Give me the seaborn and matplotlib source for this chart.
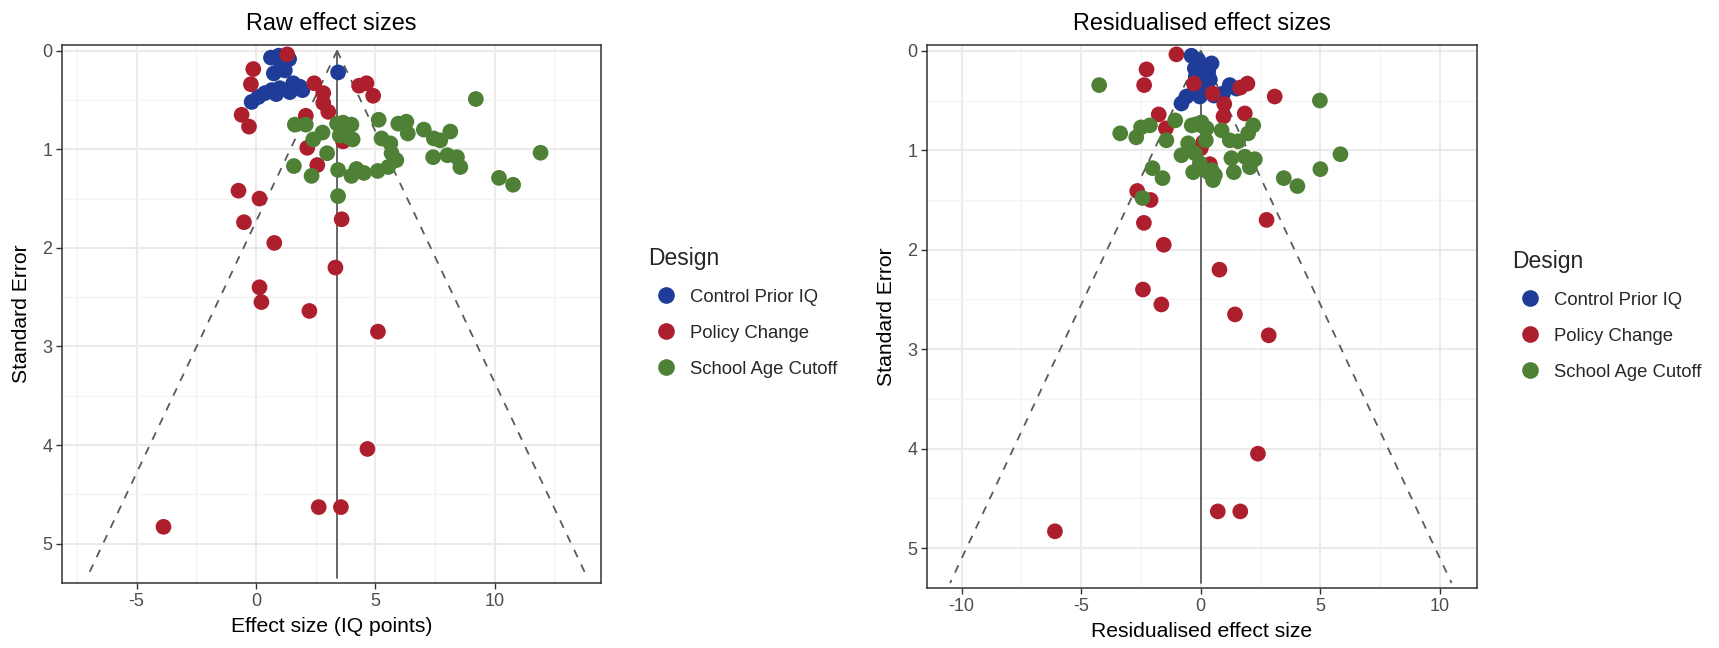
import matplotlib
matplotlib.use("Agg")
import numpy as np
import pandas as pd
import matplotlib.pyplot as plt
import seaborn as sns
from matplotlib.lines import Line2D
from matplotlib.ticker import MultipleLocator

# ---------------- data ----------------
designs = ["Control Prior IQ", "Policy Change", "School Age Cutoff"]
design_colors = ["#1E3C98", "#AE1F2E", "#4E8036"]

# Raw effect sizes panel
raw_ctrl_x = [0.63, 0.96, 1.39, 1.07, 0.75, 1.21, 3.44, 1.56, 1.84, 1.00, 0.66, 0.38, 0.10, -0.18, 1.42, 1.95, 0.85]
raw_ctrl_se = [0.07, 0.05, 0.085, 0.145, 0.23, 0.20, 0.22, 0.33, 0.365, 0.38, 0.40, 0.43, 0.47, 0.52, 0.42, 0.40, 0.44]

raw_pol_x = [1.31, -0.11, -0.21, 2.44, 2.82, 2.82, 3.03, 4.32, 4.63, 4.91, -0.60, -0.29, 2.09, 3.65, 2.15,
             2.57, -0.73, 0.15, -0.50, 0.77, 3.59, 3.33, 0.15, 0.23, 2.24, 5.11, 4.67, 2.63, 3.56, -3.87]
raw_pol_se = [0.037, 0.186, 0.34, 0.33, 0.43, 0.53, 0.62, 0.355, 0.33, 0.457, 0.65, 0.77, 0.66, 0.92, 0.985,
              1.16, 1.42, 1.50, 1.74, 1.95, 1.71, 2.20, 2.40, 2.55, 2.64, 2.85, 4.04, 4.63, 4.63, 4.83]

raw_age_x = [1.63, 2.09, 2.40, 2.79, 2.98, 1.59, 2.33, 3.40, 3.65, 4.00, 3.51, 3.86, 4.05, 3.44, 3.44, 4.00,
             4.21, 4.52, 5.10, 5.14, 5.26, 5.63, 5.68, 5.88, 5.54, 5.96, 6.30, 6.36, 7.03, 7.45, 7.72, 8.14,
             7.42, 8.02, 8.42, 8.56, 9.21, 11.92, 10.18, 10.77]
raw_age_se = [0.75, 0.75, 0.90, 0.83, 1.04, 1.17, 1.27, 0.74, 0.73, 0.75, 0.86, 0.87, 0.90, 1.21, 1.475, 1.27,
              1.20, 1.24, 1.22, 0.70, 0.89, 0.94, 1.04, 1.11, 1.18, 0.74, 0.72, 0.84, 0.80, 0.89, 0.91, 0.82,
              1.08, 1.06, 1.08, 1.18, 0.49, 1.035, 1.29, 1.36]

# Residualised effect sizes panel
res_ctrl_x = [-0.39, -0.11, 0.45, -0.25, -0.21, 0.31, 0.38, 0.24, -0.04, -0.60, -0.81, 1.21, 1.49, 0.93, -0.25, 0.55, 0.10]
res_ctrl_se = [0.05, 0.093, 0.127, 0.177, 0.26, 0.21, 0.29, 0.395, 0.46, 0.46, 0.53, 0.345, 0.38, 0.43, 0.40, 0.45, 0.33]

res_pol_x = [-1.02, -2.27, -2.37, -0.29, 0.49, 0.98, 0.95, 1.84, 1.65, 1.95, 3.09, -1.76, -1.46, 0.00, 0.38,
             -2.66, -2.10, -2.38, -1.55, 2.75, 0.78, -2.42, -1.65, 1.43, 2.84, 2.39, 0.71, 1.65, -6.10, 0.10]
res_pol_se = [0.036, 0.187, 0.345, 0.33, 0.43, 0.535, 0.66, 0.63, 0.37, 0.33, 0.46, 0.64, 0.78, 0.98, 1.14,
              1.41, 1.50, 1.73, 1.95, 1.70, 2.20, 2.40, 2.55, 2.65, 2.86, 4.05, 4.63, 4.63, 4.83, 0.92]

res_age_x = [-4.25, -3.37, -2.70, -2.50, -2.13, -1.44, -1.07, -0.38, 0.03, 0.24, 0.21, -0.53, -0.81, -0.25,
             -0.04, -0.32, 0.31, 0.59, 0.51, 0.87, 1.21, 1.56, 1.98, 2.19, 1.28, 1.84, 2.26, 2.05, 1.38, -2.02,
             -1.60, -2.44, 3.47, 4.04, 4.98, 5.84, 5.00, 0.10, -0.20, 0.45]
res_age_se = [0.345, 0.83, 0.87, 0.77, 0.75, 0.90, 0.70, 0.75, 0.72, 0.78, 0.90, 0.93, 1.05, 1.03,
              1.13, 1.22, 1.22, 1.25, 1.30, 0.80, 0.90, 0.91, 0.83, 0.75, 1.08, 1.065, 1.09, 1.17, 1.22, 1.18,
              1.28, 1.48, 1.28, 1.36, 0.50, 1.04, 1.19, 0.76, 0.74, 1.20]

# funnel reference
raw_center = 3.4
res_center = 0.0
funnel_se_max = 5.35
z_crit = 1.96

panel_titles = ["Raw effect sizes", "Residualised effect sizes"]
x_labels = ["Effect size (IQ points)", "Residualised effect size"]
y_label = "Standard Error"
legend_title = "Design"


def make_df(cx, cse, px, pse, ax_, ase):
    parts = []
    for name, xs, ses in zip(designs, [cx, px, ax_], [cse, pse, ase]):
        parts.append(pd.DataFrame({"effect": xs, "se": ses, "Design": name}))
    return pd.concat(parts, ignore_index=True)


raw_df = make_df(raw_ctrl_x, raw_ctrl_se, raw_pol_x, raw_pol_se, raw_age_x, raw_age_se)
res_df = make_df(res_ctrl_x, res_ctrl_se, res_pol_x, res_pol_se, res_age_x, res_age_se)

# ---------------- style ----------------
sns.set_theme(style="whitegrid")
plt.rcParams["font.family"] = ["Liberation Sans", "DejaVu Sans"]
plt.rcParams["axes.unicode_minus"] = False

W, H = 1719, 648
fig = plt.figure(figsize=(W / 100, H / 100), dpi=100)
ax1 = fig.add_axes([62 / W, 1 - 583 / H, (601 - 62) / W, (583 - 45) / H])
ax2 = fig.add_axes([927 / W, 1 - 588 / H, (1477 - 927) / W, (588 - 45) / H])

panels = [
    (ax1, raw_df, raw_center, (-8.12, 14.45), [-5, 0, 5, 10], 648, 247),
    (ax2, res_df, res_center, (-11.45, 11.55), [-10, -5, 0, 5, 10], 1512, 250),
]

line_col = "#5A5A5A"
for i, (ax, df, center, xlim, xticks, lx, ly) in enumerate(panels):
    ax.set_facecolor("white")
    se_line = np.array([0.0, funnel_se_max])
    ax.plot([center, center], se_line, color=line_col, lw=1.3, zorder=2)
    ax.plot(center - z_crit * se_line, se_line, color=line_col, lw=1.3, ls=(0, (4.5, 4.5)), zorder=2)
    ax.plot(center + z_crit * se_line, se_line, color=line_col, lw=1.3, ls=(0, (4.5, 4.5)), zorder=2)

    sns.scatterplot(data=df, x="effect", y="se", hue="Design", hue_order=designs,
                    palette=design_colors, s=128, linewidth=0, alpha=1, legend=False,
                    ax=ax, zorder=3)

    ax.set_xlim(*xlim)
    ax.set_ylim(5.40, -0.058)
    ax.set_xticks(xticks)
    ax.set_yticks([0, 1, 2, 3, 4, 5])
    ax.xaxis.set_minor_locator(MultipleLocator(2.5))
    ax.yaxis.set_minor_locator(MultipleLocator(0.5))
    ax.grid(which="major", color="#EBEBEB", lw=1.5)
    ax.grid(which="minor", color="#F3F3F3", lw=1.0)
    ax.set_axisbelow(True)
    for sp in ax.spines.values():
        sp.set_visible(True)
        sp.set_color("#333333")
        sp.set_linewidth(1.1)
    ax.tick_params(which="major", length=4, width=1.0, color="#333333",
                   labelcolor="#4D4D4D", labelsize=13, pad=3,
                   bottom=True, left=True)
    ax.tick_params(which="minor", length=0)

    ax.set_title(panel_titles[i], fontsize=16.8, color="black", pad=11)
    ax.set_xlabel(x_labels[i], fontsize=15.2, color="black", labelpad=5)
    ax.set_ylabel(y_label, fontsize=15.2, color="black", labelpad=8)

    handles = [Line2D([], [], marker="o", ls="", markersize=12, markerfacecolor=c,
                      markeredgewidth=0) for c in design_colors]
    leg = ax.legend(handles, designs, loc="upper left",
                    bbox_to_anchor=(lx / W, 1 - ly / H), bbox_transform=fig.transFigure,
                    frameon=False, title=legend_title, title_fontsize=16.5, fontsize=13.3,
                    handlelength=2.0, handletextpad=0.3, labelspacing=1.02,
                    borderpad=0, borderaxespad=0, alignment="left")

fig.savefig("out.png", dpi=100, facecolor="white")
